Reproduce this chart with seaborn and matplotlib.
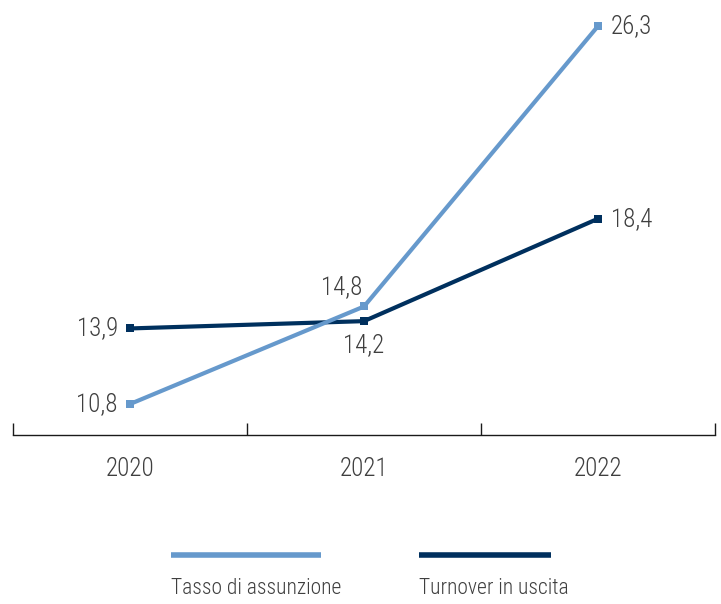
import matplotlib
matplotlib.use("Agg")
import matplotlib.pyplot as plt
import seaborn as sns
import pandas as pd
from matplotlib import font_manager as fm
from matplotlib.lines import Line2D

anni = ["2020", "2021", "2022"]
serie_nomi = ["Tasso di assunzione", "Turnover in uscita"]
tasso_assunzione = [10.8, 14.8, 26.3]
turnover_uscita = [13.9, 14.2, 18.4]
colori = ["#6699cc", "#00305e"]

sns.set_theme(style="white")
names = {f.name for f in fm.fontManager.ttflist}
stretch = "normal"
if "Roboto Condensed" in names:
    fam = "Roboto Condensed"
elif "Liberation Sans Narrow" in names:
    fam = "Liberation Sans Narrow"
else:
    fam = "DejaVu Sans"
    stretch = "condensed"
plt.rcParams["font.family"] = [fam, "DejaVu Sans"]
plt.rcParams["font.stretch"] = stretch
plt.rcParams["font.weight"] = "light"
txt_col = "#3f3f3f"

df = pd.DataFrame({
    "anno": anni * 2,
    "valore": tasso_assunzione + turnover_uscita,
    "serie": [serie_nomi[0]] * 3 + [serie_nomi[1]] * 3,
})

fig = plt.figure(figsize=(7.21, 6.04), dpi=100)
ax = fig.add_axes([13 / 721, 1 - 435 / 604, 702 / 721, 435 / 604])

sns.lineplot(data=df, x="anno", y="valore", hue="serie", hue_order=serie_nomi[::-1],
             palette={serie_nomi[0]: colori[0], serie_nomi[1]: colori[1]},
             marker="s", markersize=6, markeredgewidth=0, linewidth=3,
             legend=False, ax=ax)

ax.set_xlim(-0.5, 2.5)
ax.set_ylim(9.53, 27.37)
ax.set_xlabel("")
ax.set_ylabel("")
ax.set_yticks([])
for s in ["top", "right", "left"]:
    ax.spines[s].set_visible(False)
ax.spines["bottom"].set_color("#1a1a1a")
ax.spines["bottom"].set_linewidth(1.0)
fs = 18
ax.set_xticks([0, 1, 2])
ax.set_xticklabels(anni, fontsize=fs, color=txt_col, fontweight="light")
ax.tick_params(axis="x", which="major", bottom=True, length=0, pad=16)
ax.set_xticks([-0.5, 0.5, 1.5, 2.5], minor=True)
ax.tick_params(axis="x", which="minor", bottom=True, direction="in", length=8.5,
               width=1.0, color="#1a1a1a")

def lab(v):
    return f"{v:.1f}".replace(".", ",")

# labels for Tasso di assunzione
ax.annotate(lab(tasso_assunzione[0]), (0, tasso_assunzione[0]),
            xytext=(-12, 0), textcoords="offset pixels", ha="right", va="center",
            fontsize=fs, color=txt_col)
ax.annotate(lab(tasso_assunzione[1]), (1, tasso_assunzione[1]),
            xytext=(-22, 19), textcoords="offset pixels", ha="center", va="center",
            fontsize=fs, color=txt_col)
ax.annotate(lab(tasso_assunzione[2]), (2, tasso_assunzione[2]),
            xytext=(13, 0), textcoords="offset pixels", ha="left", va="center",
            fontsize=fs, color=txt_col)
# labels for Turnover in uscita
ax.annotate(lab(turnover_uscita[0]), (0, turnover_uscita[0]),
            xytext=(-12, 0), textcoords="offset pixels", ha="right", va="center",
            fontsize=fs, color=txt_col)
ax.annotate(lab(turnover_uscita[1]), (1, turnover_uscita[1]),
            xytext=(0, -24), textcoords="offset pixels", ha="center", va="center",
            fontsize=fs, color=txt_col)
ax.annotate(lab(turnover_uscita[2]), (2, turnover_uscita[2]),
            xytext=(13, 0), textcoords="offset pixels", ha="left", va="center",
            fontsize=fs, color=txt_col)

# legend: line above label
leg_x = [(171, 321), (419, 551)]
for (x0, x1), nome, c in zip(leg_x, serie_nomi, colori):
    fig.add_artist(Line2D([x0 / 721, x1 / 721], [1 - 555 / 604] * 2, color=c,
                          linewidth=4, solid_capstyle="butt", transform=fig.transFigure))
    fig.text(x0 / 721, 1 - 588 / 604, nome, ha="left", va="center",
             fontsize=15.5, color=txt_col)

fig.savefig("out.png", dpi=100)
